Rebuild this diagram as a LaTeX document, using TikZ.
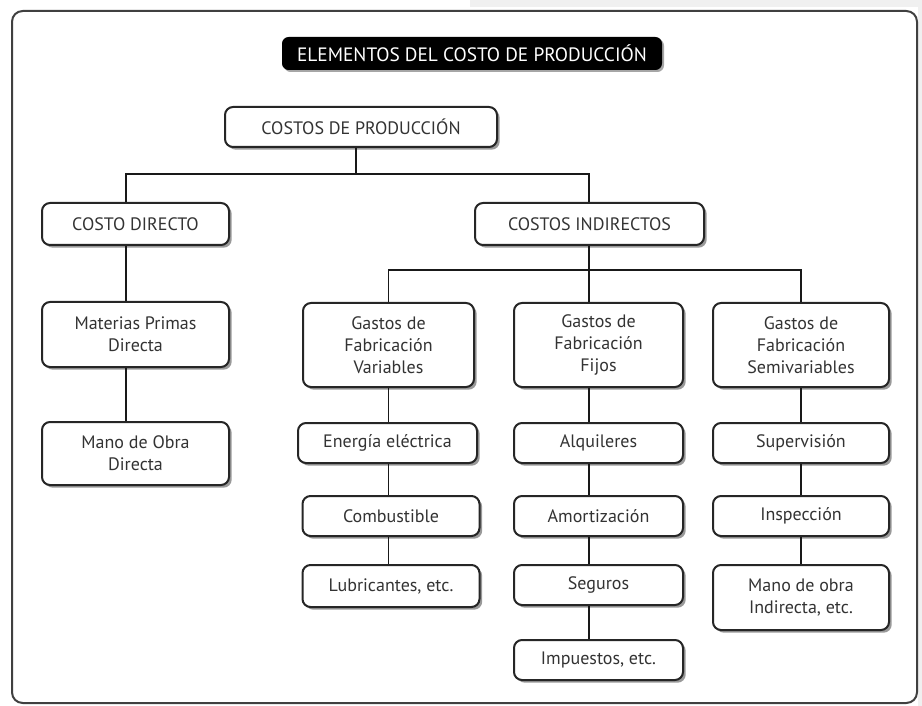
\documentclass[tikz,border=0pt]{standalone}
\usepackage{fontspec}
\setmainfont{PT Sans}
\usetikzlibrary{shadows}
\begin{document}
\begin{tikzpicture}[x=0.75pt,y=-0.75pt,
  card/.style={draw=black!85, line width=1.5pt, rounded corners=6pt, fill=white,
    general shadow={fill=black!40, shadow xshift=2pt, shadow yshift=-2pt},
    inner sep=0pt, align=center, text=black!80,
    font=\fontsize{13.5}{16.5}\selectfont},
  headbox/.style={fill=black, rounded corners=5pt, text=white, inner sep=0pt,
    general shadow={fill=black!35, shadow xshift=1.5pt, shadow yshift=-1.5pt},
    font=\fontsize{14.5}{17}\selectfont},
  link/.style={draw=black!90, line width=1.2pt}]
\useasboundingbox (0,0) rectangle (922,706);
% paper edge
\fill[black!6] (470,0) rectangle (922,7);
\fill[black!6] (918,0) rectangle (922,706);
\draw[black!75, line width=1.5pt, rounded corners=8pt] (12,11) rectangle (917,703);

% heading
\node[headbox, minimum width=285pt, minimum height=24.75pt] (title) at (472,53.5) {ELEMENTOS DEL COSTO DE PRODUCCIÓN};

% levels
\node[card, minimum width=204pt, minimum height=30pt] (root) at (361,127) {COSTOS DE PRODUCCIÓN};
\node[card, minimum width=140.25pt, minimum height=31.5pt] (cd) at (135.5,224) {COSTO DIRECTO};
\node[card, minimum width=171.75pt, minimum height=31.5pt] (ci) at (589.5,224) {COSTOS INDIRECTOS};

\node[card, minimum width=140.25pt, minimum height=48.75pt] (mp) at (135.5,334.5) {Materias Primas\\Directa};
\node[card, minimum width=140.25pt, minimum height=47.25pt] (mo) at (135.5,453.5) {Mano de Obra\\Directa};

\node[card, minimum width=128.25pt, minimum height=63pt] (gv) at (388.5,345) {Gastos de\\Fabricación\\Variables};
\node[card, minimum width=126.75pt, minimum height=63pt] (gf) at (598.5,345) {Gastos de\\Fabricación\\Fijos};
\node[card, minimum width=132pt, minimum height=63pt] (gs) at (801,345) {Gastos de\\Fabricación\\Semivariables};

\node[card, minimum width=134.25pt, minimum height=30pt] (ene) at (387.5,443) {Energía eléctrica};
\node[card, minimum width=132.75pt, minimum height=30pt] (com) at (391,516) {Combustible};
\node[card, minimum width=132.75pt, minimum height=31.5pt] (lub) at (391,586) {Lubricantes, etc.};

\node[card, minimum width=126.75pt, minimum height=30pt] (alq) at (598.5,443) {Alquileres};
\node[card, minimum width=126.75pt, minimum height=30pt] (amo) at (598.5,516) {Amortización};
\node[card, minimum width=126.75pt, minimum height=30pt] (seg) at (598.5,585) {Seguros};
\node[card, minimum width=126.75pt, minimum height=30pt] (imp) at (598.5,660) {Impuestos, etc.};

\node[card, minimum width=132pt, minimum height=30pt] (sup) at (801,443) {Supervisión};
\node[card, minimum width=132pt, minimum height=30pt] (ins) at (801,516) {Inspección};
\node[card, minimum width=132pt, minimum height=48.75pt] (moi) at (801,597.5) {Mano de obra\\Indirecta, etc.};

% connector guide positions
\coordinate (busA) at (356,174);
\coordinate (busB) at (0,270);
\coordinate (colD) at (126,0);
\coordinate (colF) at (589,0);

% first split
\path[link] (root.south -| busA) -- (busA);
\path[link] (cd.north -| colD) |- (busA) -| (ci.north -| colF);
% direct branch
\path[link] (cd.south -| colD) -- (mp.north -| colD);
\path[link] (mp.south -| colD) -- (mo.north -| colD);
% indirect split
\path[link] (ci.south -| colF) -- (gf.north -| colF);
\path[link] (gv.north) |- (busB -| colF) -| (gs.north);
% variable column
\path[link] (gv.south) -- (ene.north -| gv.south);
\path[link] (ene.south -| gv.south) -- (com.north -| gv.south);
\path[link] (com.south -| gv.south) -- (lub.north -| gv.south);
% fixed column
\path[link] (gf.south -| colF) -- (alq.north -| colF);
\path[link] (alq.south -| colF) -- (amo.north -| colF);
\path[link] (amo.south -| colF) -- (seg.north -| colF);
\path[link] (seg.south -| colF) -- (imp.north -| colF);
% semivariable column
\path[link] (gs.south) -- (sup.north -| gs.south);
\path[link] (sup.south -| gs.south) -- (ins.north -| gs.south);
\path[link] (ins.south -| gs.south) -- (moi.north -| gs.south);
\end{tikzpicture}
\end{document}
